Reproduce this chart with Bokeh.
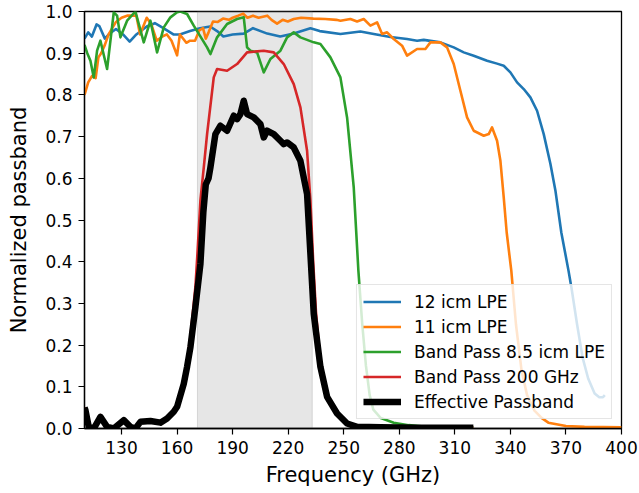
from bokeh.plotting import figure
from bokeh.models import Range1d, FixedTicker, NumeralTickFormatter, BoxAnnotation, Legend, LegendItem
from bokeh.embed import file_html
from bokeh.resources import INLINE

# ---------------- data ----------------
blue_x = [110, 112, 114, 116.5, 118, 121, 123.5, 127, 130.8, 134.4, 138, 143.6, 148, 152.6, 158, 161.5,
          167, 172.4, 177.8, 181.6, 185, 190, 196, 201, 208.7, 215.7, 223, 232, 237, 248.2, 259, 266.2,
          275.2, 284.2, 289.6, 293.2, 302.2, 309.4, 314.8, 320.2, 327.4, 332.8, 336.4, 340, 343.6, 347.2,
          350.8, 354.4, 358, 361.6, 364.3, 367.5, 371.4, 373, 376, 379, 382, 385.5, 388, 390, 391]
blue_y = [0.935, 0.95, 0.94, 0.969, 0.965, 0.935, 0.947, 0.958, 0.945, 0.928, 0.945, 0.964, 0.972, 0.96,
          0.945, 0.945, 0.953, 0.96, 0.964, 0.953, 0.94, 0.945, 0.947, 0.96, 0.947, 0.94, 0.947, 0.96,
          0.953, 0.946, 0.952, 0.946, 0.939, 0.934, 0.93, 0.932, 0.926, 0.914, 0.902, 0.894, 0.882, 0.875,
          0.87, 0.854, 0.83, 0.814, 0.794, 0.762, 0.706, 0.635, 0.571, 0.47, 0.378, 0.337, 0.25, 0.17,
          0.12, 0.084, 0.075, 0.075, 0.08]

orange_x = [110, 112, 114, 116, 117.5, 119, 121, 123, 125, 127, 130, 133, 136, 138, 140, 143.6, 146, 149,
            152, 154.5, 157, 160, 161.5, 165, 167, 169.7, 172, 174, 175.5, 177, 179.4, 182, 184.8, 188,
            190, 193, 195.7, 198, 201, 204, 208.7, 211, 214, 217, 219.8, 223, 227, 233.6, 240, 246,
            248.2, 253.6, 257.2, 260.8, 264.4, 268, 270.7, 273.4, 277, 281.5, 284.2, 289.6, 294.1, 296.8,
            302.2, 305.8, 309.4, 313, 316.6, 320.2, 325.6, 328.3, 330.1, 332.8, 334.6, 336.4, 338, 340.5,
            343, 346, 349, 353, 357, 360.5, 370, 380, 400]
orange_y = [0.80, 0.83, 0.845, 0.84, 0.89, 0.90, 0.92, 0.945, 0.96, 0.975, 0.985, 0.99, 0.99, 0.99, 0.945,
            0.985, 0.97, 0.93, 0.94, 0.945, 0.93, 0.895, 0.945, 0.925, 0.93, 0.93, 0.955, 0.96, 0.935,
            0.95, 0.976, 0.975, 0.983, 0.98, 0.985, 0.99, 0.995, 0.985, 0.99, 0.985, 0.99, 0.98, 0.971,
            0.98, 0.976, 0.982, 0.985, 0.983, 0.982, 0.98, 0.978, 0.982, 0.976, 0.982, 0.966, 0.974, 0.946,
            0.95, 0.934, 0.918, 0.894, 0.91, 0.91, 0.926, 0.926, 0.914, 0.874, 0.81, 0.746, 0.714, 0.702,
            0.706, 0.722, 0.69, 0.642, 0.554, 0.47, 0.378, 0.25, 0.14, 0.08, 0.043, 0.025, 0.014, 0.006,
            0.004, 0.003]

green_x = [110, 111.5, 113.2, 115, 116.8, 118.6, 122.2, 125.8, 127.6, 129.4, 133, 137.5, 142, 145.6, 149.2,
           152.8, 156.4, 160, 161.8, 165.4, 169, 176.2, 178, 181.6, 187, 192.4, 196, 197.8, 199.6, 203.2,
           206.8, 210.4, 215.8, 219.4, 223, 226.6, 233.8, 237.4, 242.8, 248.2, 251.8, 255.4, 257.9, 260,
           262, 264, 266, 270, 277, 285, 292, 320]
green_y = [0.92, 0.90, 0.882, 0.842, 0.906, 0.93, 0.862, 0.998, 0.99, 0.938, 0.978, 1.0, 0.926, 0.978,
           0.902, 0.962, 0.986, 0.998, 1.0, 0.994, 0.966, 0.914, 0.898, 0.938, 0.97, 0.982, 0.986, 0.914,
           0.906, 0.902, 0.854, 0.886, 0.906, 0.938, 0.95, 0.938, 0.926, 0.922, 0.89, 0.842, 0.746, 0.578,
           0.379, 0.25, 0.15, 0.08, 0.045, 0.025, 0.014, 0.008, 0.005, 0.003]

red_x = [110, 110.5, 112.3, 115, 118.6, 122.2, 125.8, 131.2, 134.8, 137.5, 140.2, 145.6, 151, 154.6, 158,
         160, 163.6, 165.4, 167.2, 169.9, 171, 172.6, 174.5, 176.2, 179.8, 181.6, 187, 192.4, 197.8,
         206.8, 212.2, 217.6, 223, 226.6, 230.2, 232, 233.5, 235, 237.4, 241, 246.4, 251.8, 257, 270, 320]
red_y = [0.05, 0.045, 0.006, 0.002, 0.032, 0.006, 0.002, 0.022, 0.006, 0.002, 0.018, 0.02, 0.016, 0.027,
         0.045, 0.058, 0.115, 0.16, 0.22, 0.34, 0.42, 0.547, 0.63, 0.706, 0.842, 0.862, 0.858, 0.874, 0.902,
         0.906, 0.902, 0.874, 0.826, 0.77, 0.666, 0.547, 0.40, 0.28, 0.16, 0.08, 0.038, 0.013, 0.005, 0.003,
         0.002]

black_x = [110, 110.5, 112.3, 115, 118.6, 122.2, 125.8, 131.2, 134.8, 137.5, 140.2, 145.6, 151, 154.6,
           158.2, 160, 163.6, 165.4, 167.2, 169.9, 172.6, 174.2, 175.5, 177, 178, 180.7, 183.4, 187,
           190.6, 192.4, 194.2, 196, 197.8, 201.4, 205, 206.8, 208.6, 212.2, 215.8, 217.6, 219.4, 223,
           226.6, 230.2, 232, 233.8, 237.4, 241, 246.4, 251.8, 257.2, 270, 290, 320]
black_y = [0.05, 0.044, 0.004, 0.0, 0.028, 0.004, 0.0, 0.02, 0.004, 0.0, 0.016, 0.018, 0.014, 0.024,
           0.04, 0.052, 0.107, 0.148, 0.195, 0.291, 0.395, 0.52, 0.585, 0.60, 0.626, 0.706, 0.726, 0.714,
           0.75, 0.742, 0.754, 0.786, 0.754, 0.746, 0.73, 0.698, 0.714, 0.706, 0.69, 0.682, 0.686, 0.674,
           0.642, 0.562, 0.419, 0.275, 0.148, 0.076, 0.036, 0.012, 0.004, 0.003, 0.002, 0.002]

series_labels = ["12 icm LPE", "11 icm LPE", "Band Pass 8.5 icm LPE", "Band Pass 200 GHz", "Effective Passband"]
band_lo, band_hi = 171, 233
x_ticks = [130, 160, 190, 220, 250, 280, 310, 340, 370, 400]
y_ticks = [0.0, 0.1, 0.2, 0.3, 0.4, 0.5, 0.6, 0.7, 0.8, 0.9, 1.0]

# ---------------- figure ----------------
FONT = "DejaVu Sans"
p = figure(width=639, height=493, x_range=Range1d(110, 400), y_range=Range1d(0, 1),
           output_backend="svg", toolbar_location=None,
           min_border_left=84, min_border_right=18, min_border_top=11, min_border_bottom=65)
p.xgrid.visible = False
p.ygrid.visible = False
p.outline_line_color = "black"
p.outline_line_width = 1.3
p.background_fill_color = "white"
p.border_fill_color = "white"

for ax in (p.xaxis[0], p.yaxis[0]):
    ax.major_tick_out = 6
    ax.major_tick_in = 0
    ax.minor_tick_out = 0
    ax.minor_tick_in = 0
    ax.major_tick_line_width = 1.2
    ax.axis_line_width = 1.3
    ax.major_label_text_font = FONT
    ax.major_label_text_font_size = "17px"
    ax.major_label_text_color = "black"
    ax.axis_label_text_font = FONT
    ax.axis_label_text_font_size = "21px"
    ax.axis_label_text_font_style = "normal"
    ax.axis_label_text_color = "black"
    ax.major_label_standoff = 6

p.xaxis.ticker = FixedTicker(ticks=x_ticks)
p.yaxis.ticker = FixedTicker(ticks=y_ticks)
p.yaxis.formatter = NumeralTickFormatter(format="0.0")
p.xaxis.axis_label = "Frequency (GHz)"
p.yaxis.axis_label = "Normalized passband"
p.xaxis.axis_label_standoff = 6
p.yaxis.axis_label_standoff = 11

band = BoxAnnotation(left=band_lo, right=band_hi, fill_color="#808080", fill_alpha=0.2,
                     line_color="#808080", line_alpha=0.25, line_width=1, level="underlay")
p.add_layout(band)

r1 = p.line(blue_x, blue_y, line_color="#1f77b4", line_width=2.6, line_join="round")
r2 = p.line(orange_x, orange_y, line_color="#ff7f0e", line_width=2.6, line_join="round")
r3 = p.line(green_x, green_y, line_color="#2ca02c", line_width=2.6, line_join="round")
r4 = p.line(red_x, red_y, line_color="#d62728", line_width=2.6, line_join="round")
r5 = p.line(black_x, black_y, line_color="black", line_width=6.5, line_join="round")

legend = Legend(items=[LegendItem(label=series_labels[i], renderers=[r])
                       for i, r in enumerate([r1, r2, r3, r4, r5])],
                location="bottom_right", margin=9, padding=6, spacing=4,
                label_height=21, glyph_height=21, glyph_width=38, label_standoff=13,
                label_text_font=FONT, label_text_font_size="17px", label_text_color="black",
                background_fill_color="white", background_fill_alpha=0.8,
                border_line_color="#cccccc", border_line_width=1)
p.add_layout(legend)

open("out.html", "w").write(file_html(p, INLINE))
